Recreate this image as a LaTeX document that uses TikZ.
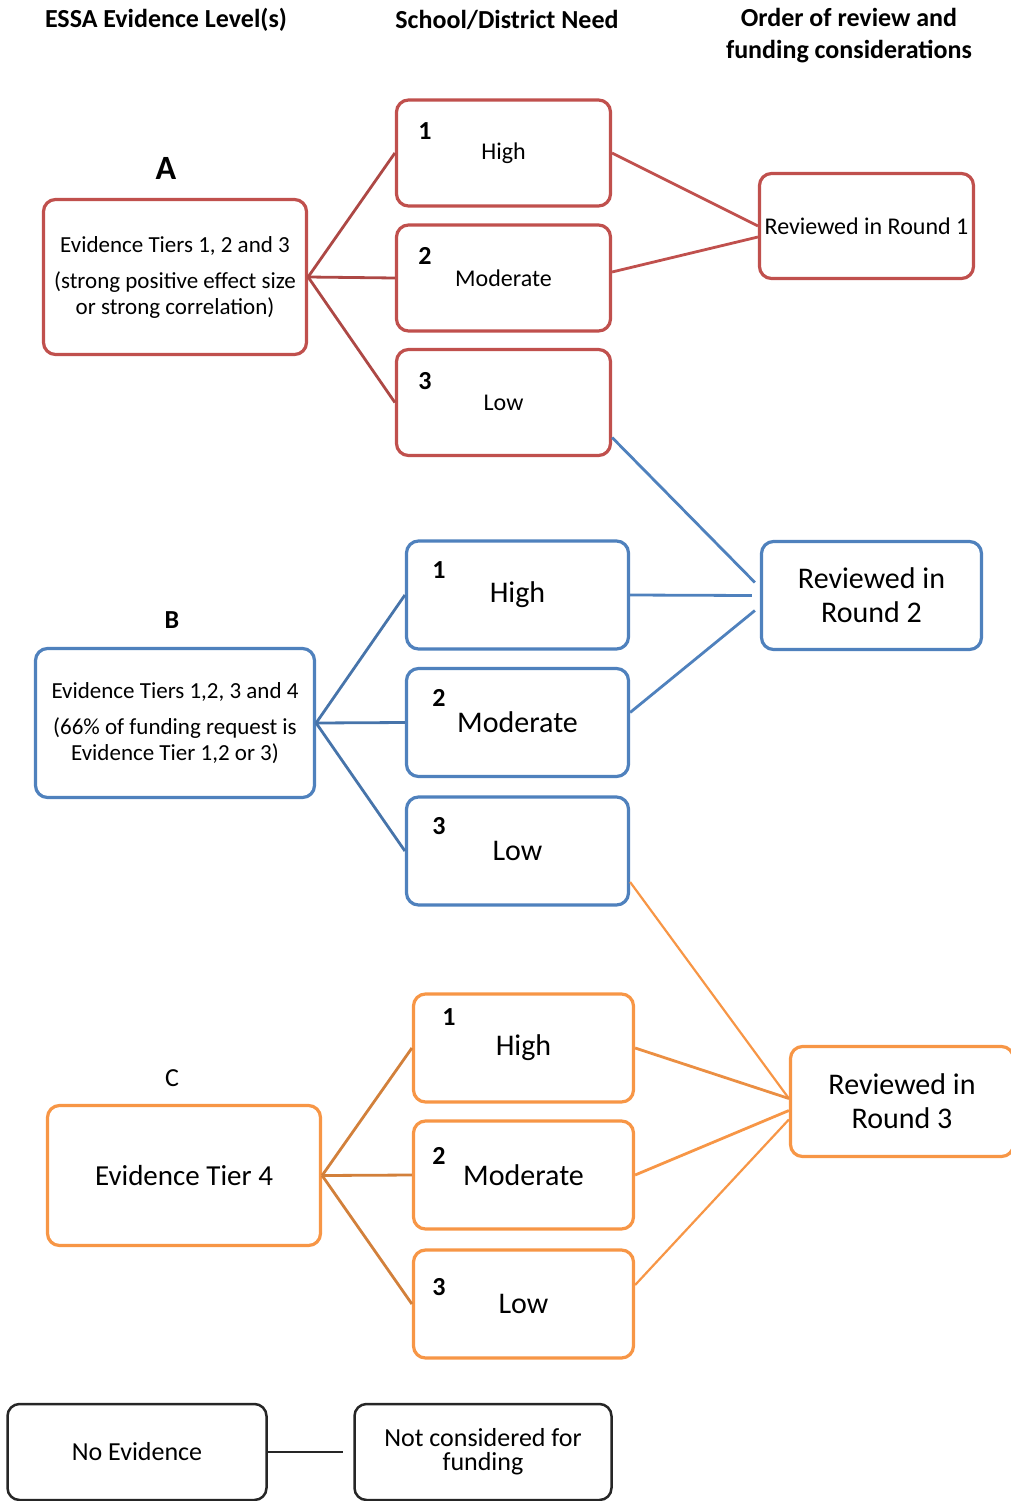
\documentclass[tikz,border=0pt]{standalone}
\usepackage{fontspec}
\setmainfont{Carlito}
\usepackage{xcolor}
\usepackage{tikz}
\usetikzlibrary{positioning}

\definecolor{tierA}{HTML}{C0504D}
\definecolor{tierB}{HTML}{4F81BD}
\definecolor{tierC}{HTML}{F79646}

\begin{document}
\begin{tikzpicture}[
      x=1pt, y=-1pt,
      box/.style={draw, line width=3.2pt, rounded corners=12pt, fill=white, inner sep=0pt, align=center},
      need/.style={box, minimum width=214pt, minimum height=106pt},
      link/.style={line width=2.8pt},
      hdr/.style={font=\fontsize{26}{32}\selectfont\bfseries, align=center},
      num/.style={font=\fontsize{26}{26}\selectfont\bfseries},
      grp/.style={font=\fontsize{26}{26}\selectfont\bfseries}
    ]
    \useasboundingbox (0,0) rectangle (1011,1501);
    \clip (0,0) rectangle (1011,1501);

    % Intestazioni
    \node[hdr] (h1) at (166,20) {ESSA Evidence Level(s)};
    \node[hdr] (h2) at (507,20) {School/District Need};
    \node[hdr] (h3) at (849,36) {Order of review and\\funding considerations};

    % Gruppo A
    \node[grp, font=\fontsize{34}{34}\selectfont\bfseries] (lblA) at (166,168) {A};
    \node[box, draw=tierA, minimum width=263pt, minimum height=155pt,
          font=\fontsize{23}{26}\selectfont] (ta) at (175,277)
          {Evidence Tiers 1, 2 and 3\\[10pt](strong positive effect size\\or strong correlation)};
    \foreach \i/\y/\w in {1/153/High, 2/278/Moderate, 3/402.5/Low} {
      \node[need, draw=tierA, font=\fontsize{24}{28}\selectfont] (a\i) at (503.5,\y) {\w};
      \node[num] (a\i n) at ([shift={(30,33)}]a\i.north west) {\i};
    }
    \node[box, draw=tierA, minimum width=214pt, minimum height=105pt,
          font=\fontsize{24}{28}\selectfont] (r1) at (866.5,226) {Reviewed in Round 1};

    % Gruppo B
    \node[grp] (lblB) at (172,620) {B};
    \node[box, draw=tierB, minimum width=279pt, minimum height=149pt,
          font=\fontsize{23}{26}\selectfont] (tb) at (175,723)
          {Evidence Tiers 1,2, 3 and 4\\[10pt](66\% of funding request is\\Evidence Tier 1,2 or 3)};
    \foreach \i/\y/\w in {1/595/High, 2/722.5/Moderate, 3/851/Low} {
      \node[need, draw=tierB, minimum width=222pt, minimum height=108pt,
            font=\fontsize{30}{34}\selectfont] (b\i) at (517.5,\y) {\w};
      \node[num] (b\i n) at ([shift={(34,31)}]b\i.north west) {\i};
    }
    \node[box, draw=tierB, minimum width=220pt, minimum height=108pt,
          font=\fontsize{30}{34}\selectfont] (r2) at (871.5,595.5) {Reviewed in\\Round 2};

    % Gruppo C
    \node[grp, font=\fontsize{26}{26}\selectfont] (lblC) at (172,1078) {C};
    \node[box, draw=tierC, minimum width=273pt, minimum height=140pt,
          font=\fontsize{29}{34}\selectfont] (tc) at (184,1175.5) {Evidence Tier 4};
    \foreach \i/\y/\w/\dx/\dy in {1/1048/High/37/25, 2/1175/Moderate/27/37, 3/1304/Low/27/39} {
      \node[need, draw=tierC, minimum width=220pt, minimum height=108pt,
            font=\fontsize{30}{34}\selectfont] (c\i) at (523.5,\y) {\w};
      \node[num] (c\i n) at ([shift={(\dx,\dy)}]c\i.north west) {\i};
    }
    \node[box, draw=tierC, minimum width=223pt, minimum height=110pt,
          font=\fontsize{30}{34}\selectfont] (r3) at (902,1101.5) {Reviewed in\\Round 3};

    % Nessuna evidenza
    \node[box, draw=black!85, line width=2.5pt, minimum width=259pt, minimum height=96pt,
          font=\fontsize{26}{24}\selectfont] (ne) at (137,1452) {No Evidence};
    \node[box, draw=black!85, line width=2.5pt, minimum width=257pt, minimum height=96pt,
          font=\fontsize{26}{24}\selectfont] (nc) at (483,1452) {Not considered for\\funding};

    % Collegamenti A
    \foreach \i in {1,2,3} \draw[link, tierA!90!black] (ta.east) -- (a\i.west);
    \draw[link, tierA] (a1.east) -- (r1.west);
    \draw[link, tierA] ([yshift=6pt]a2.east) -- ([yshift=-11pt]r1.west);

    % Collegamenti B
    \foreach \i in {1,2,3} \draw[link, tierB!90!black] (tb.east) -- (b\i.west);
    \draw[link, tierB] ([yshift=-35pt]a3.east) -- ([shift={(-5,-13)}]r2.west);
    \draw[link, tierB] (b1.east) -- ([xshift=-8pt]r2.west);
    \draw[link, tierB] ([yshift=10pt]b2.east) -- ([shift={(-5,15)}]r2.west);

    % Collegamenti C
    \foreach \i in {1,2,3} \draw[link, tierC!85!black] (tc.east) -- (c\i.west);
    \draw[link, line width=2.2pt, tierC] ([yshift=-31pt]b3.east) -- ([yshift=3pt]r3.west);
    \draw[link, tierC!95!black] (c1.east) -- ([yshift=3pt]r3.west);
    \draw[link, tierC] (c2.east) -- ([yshift=-9pt]r3.west);
    \draw[link, line width=2.2pt, tierC] ([yshift=19pt]c3.east) -- ([yshift=-18pt]r3.west);

    \draw[link, black!85] (ne.east) -- ([xshift=-10pt]nc.west);
  \end{tikzpicture}
\end{document}
